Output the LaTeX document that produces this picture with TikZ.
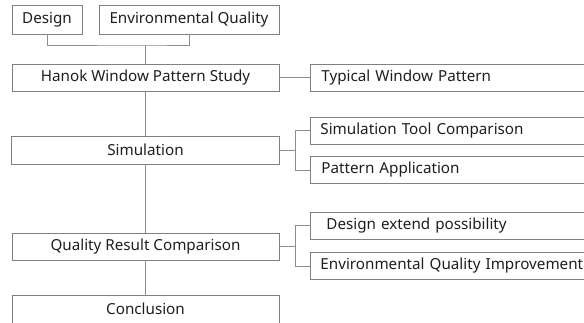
\documentclass[tikz,border=0pt]{standalone}
\usepackage{fontspec}
\setmainfont{Noto Sans}
\definecolor{boxgray}{HTML}{808080}
\definecolor{linegray}{HTML}{8C8C8C}
\definecolor{textc}{HTML}{1E1E1E}
\begin{document}
\begin{tikzpicture}[x=1pt,y=-1pt,
  box/.style={draw=boxgray, line width=0.9pt, rectangle, inner sep=0pt,
    font=\fontsize{15.2}{17}\selectfont, text=textc},
  rbox/.style={box, anchor=west, minimum height=27pt, text width=290pt,
    align=left, inner xsep=10pt},
  conn/.style={draw=linegray, line width=0.8pt}]
\useasboundingbox (0,0) rectangle (584,322);
\clip (0,0) rectangle (584,322);
% left column
\node[box, minimum width=70pt, minimum height=29pt] (design) at (47,19.5) {Design};
\node[box, minimum width=180pt, minimum height=29pt] (envq) at (189,19.5) {Environmental Quality};
\node[box, minimum width=267pt, minimum height=27pt] (hanok) at (145.5,77.5) {Hanok Window Pattern Study};
\node[box, minimum width=268pt, minimum height=28pt] (sim) at (145.5,150) {Simulation};
\node[box, minimum width=267pt, minimum height=27pt] (qrc) at (145.5,246.5) {Quality Result Comparison};
\node[box, minimum width=267pt, minimum height=28pt] (concl) at (145.5,309) {Conclusion};
% right column
\node[rbox] (typ) at (310,78) {\hspace{1pt}Typical Window Pattern};
\node[rbox] (stc) at (310,130.5) {Simulation Tool Comparison};
\node[rbox] (pa) at (310,170) {\hspace{1pt}Pattern Application};
\node[rbox] (dep) at (310,225.5) {\hspace{6pt}Design extend possibility};
\node[rbox] (eqi) at (310,266) {Environmental Quality Improvement};
% connectors
\coordinate (j1) at (145.5,45);
\draw[conn] (design.south) |- (j1) -| (envq.south);
\draw[conn] (j1) -- (hanok.north);
\draw[conn] (hanok.east) -- (hanok.east -| typ.west);
\draw[conn] (hanok) -- (sim);
\draw[conn] (sim) -- (qrc);
\draw[conn] (qrc) -- (concl);
\coordinate (s1) at (295,150);
\draw[conn] (sim.east) -- (s1);
\draw[conn] (stc.west) -| (s1);
\draw[conn] (pa.west) -| (s1);
\coordinate (q1) at (295,246.5);
\draw[conn] (qrc.east) -- (q1);
\draw[conn] (dep.west) -| (q1);
\draw[conn] (eqi.west) -| (q1);
\end{tikzpicture}
\end{document}
